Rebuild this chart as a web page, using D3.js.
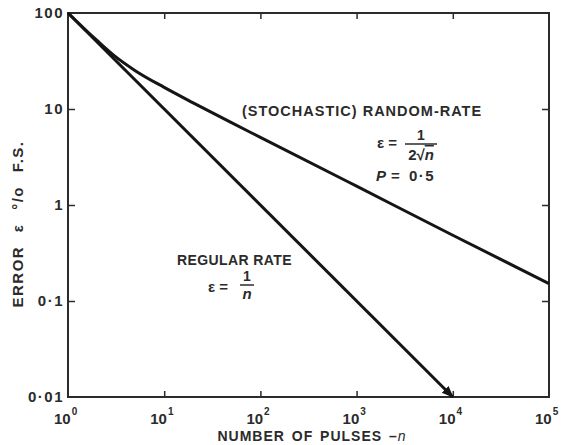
<!DOCTYPE html>
<html lang="en">
<head>
<meta charset="utf-8">
<title>Error vs number of pulses</title>
<script src="https://cdn.jsdelivr.net/npm/d3@7"></script>
<style>
  body { margin: 0; background: #fff; }
  svg { font-family: "Liberation Sans", Arial, sans-serif; font-weight: bold; }
  .lbl { font-size: 14px; fill: #2b2b2b; }
  .tk { font-size: 15px; letter-spacing: 1.5px; }
</style>
</head>
<body>
<svg width="561" height="445"></svg>
<script>
// pulses n and error (% F.S.)
var regularN = [1, 10000];
var regularErr = [100, 0.01];
var randomN = [1, 2, 3, 5, 10, 20, 50, 100, 1000, 10000, 100000];
var randomErr = [100, 51.8, 36.2, 25.1, 16.8, 11.6, 7.2, 5.07, 1.57, 0.484, 0.152];
var xTicks = [1, 10, 100, 1000, 10000, 100000];
var xExp = ["0", "1", "2", "3", "4", "5"];
var yTicks = [0.01, 0.1, 1, 10, 100];
var yLabels = ["0·01", "0·1", "1", "10", "100"];

var svg = d3.select("svg"),
    pl = 68, pr = 549, pt = 13, pb = 397;

var x = d3.scaleLog().domain([1, 1e5]).range([pl, pr]);
var y = d3.scaleLog().domain([0.01, 100]).range([pb, pt]);

var ink = "#2b2b2b";

// inward ticks on all four sides
var inner = xTicks.slice(1, -1), innerY = yTicks.slice(1, -1);
svg.append("g").attr("transform", "translate(0," + pb + ")")
    .call(d3.axisBottom(x).tickValues(inner).tickSize(-6).tickFormat(""));
svg.append("g").attr("transform", "translate(0," + pt + ")")
    .call(d3.axisTop(x).tickValues(inner).tickSize(-6).tickFormat(""));
svg.append("g").attr("transform", "translate(" + pl + ",0)")
    .call(d3.axisLeft(y).tickValues(innerY).tickSize(-7).tickFormat(""));
svg.append("g").attr("transform", "translate(" + pr + ",0)")
    .call(d3.axisRight(y).tickValues(innerY).tickSize(-7).tickFormat(""));
svg.selectAll(".domain").remove();
svg.selectAll(".tick line").attr("stroke", ink).attr("stroke-width", 1.5);

svg.append("rect")
    .attr("x", pl).attr("y", pt)
    .attr("width", pr - pl).attr("height", pb - pt)
    .attr("fill", "none").attr("stroke", ink).attr("stroke-width", 2);

// y tick labels
svg.selectAll(".ylab").data(yTicks).enter().append("text")
    .attr("class", "lbl tk")
    .attr("x", pl - 4)
    .attr("y", function(d) { return y(d) + 5; })
    .attr("text-anchor", "end")
    .text(function(d, i) { return yLabels[i]; });

// x tick labels with superscripts
var xl = svg.selectAll(".xlab").data(xTicks).enter().append("text")
    .attr("class", "lbl")
    .style("font-size", "15px")
    .attr("x", function(d) { return x(d) - 14; })
    .attr("y", 424);
xl.append("tspan").text("10");
xl.append("tspan").attr("dx", 1).attr("dy", -9).style("font-size", "10px")
    .text(function(d, i) { return xExp[i]; });

// axis titles
var xt = svg.append("text").attr("class", "lbl")
    .attr("x", 312).attr("y", 441).attr("text-anchor", "middle")
    .style("letter-spacing", "1px").style("word-spacing", "2px")
    .text("NUMBER OF PULSES –");
xt.append("tspan").style("font-style", "italic").style("font-weight", "normal").text("n");

svg.append("text").attr("class", "lbl")
    .attr("transform", "translate(23,224) rotate(-90)")
    .attr("text-anchor", "middle")
    .style("font-size", "15px").style("letter-spacing", "1.5px").style("word-spacing", "8px")
    .text("ERROR ε °/o F.S.");

// curves
var line = d3.line()
    .x(function(d) { return x(d[0]); })
    .y(function(d) { return y(d[1]); })
    .curve(d3.curveMonotoneX);

svg.append("defs").append("marker")
    .attr("id", "arrow").attr("viewBox", "0 0 10 10")
    .attr("refX", 9).attr("refY", 5)
    .attr("markerWidth", 4).attr("markerHeight", 4)
    .attr("orient", "auto")
  .append("path").attr("d", "M0,1L10,5L0,9Z").attr("fill", "#151515");

svg.append("path")
    .datum(d3.zip(regularN, regularErr))
    .attr("d", line)
    .attr("fill", "none").attr("stroke", "#151515").attr("stroke-width", 3)
    .attr("marker-end", "url(#arrow)");

svg.append("path")
    .datum(d3.zip(randomN, randomErr))
    .attr("d", line)
    .attr("fill", "none").attr("stroke", "#151515").attr("stroke-width", 3);

// annotations
svg.append("text").attr("class", "lbl").attr("x", 242).attr("y", 116)
    .style("letter-spacing", "1px").style("font-size", "14.5px")
    .text("(STOCHASTIC) RANDOM-RATE");
svg.append("text").attr("class", "lbl").attr("x", 377).attr("y", 148).style("font-size", "15px").text("ε =");
svg.append("text").attr("class", "lbl").attr("x", 421).attr("y", 140).attr("text-anchor", "middle").text("1");
svg.append("line").attr("x1", 405).attr("x2", 437).attr("y1", 144).attr("y2", 144)
    .attr("stroke", ink).attr("stroke-width", 1.5);
var den = svg.append("text").attr("class", "lbl").attr("x", 421).attr("y", 160).attr("text-anchor", "middle")
    .style("font-size", "15px");
den.append("tspan").text("2√");
den.append("tspan").style("font-style", "italic").style("text-decoration", "overline").text("n");
var p = svg.append("text").attr("class", "lbl").attr("x", 376).attr("y", 181).style("font-size", "15px");
p.append("tspan").style("font-style", "italic").text("P");
p.append("tspan").attr("dx", 5).text("=");
svg.append("text").attr("class", "lbl").attr("x", 409).attr("y", 181)
    .style("font-size", "15px").style("letter-spacing", "1.5px").text("0·5");

svg.append("text").attr("class", "lbl").attr("x", 177).attr("y", 265)
    .style("letter-spacing", "0.4px").text("REGULAR RATE");
svg.append("text").attr("class", "lbl").attr("x", 208).attr("y", 292).style("font-size", "15px").text("ε =");
svg.append("text").attr("class", "lbl").attr("x", 247).attr("y", 281).attr("text-anchor", "middle").text("1");
svg.append("line").attr("x1", 240).attr("x2", 254).attr("y1", 285).attr("y2", 285)
    .attr("stroke", ink).attr("stroke-width", 1.5);
svg.append("text").attr("class", "lbl").attr("x", 247).attr("y", 299).attr("text-anchor", "middle")
    .style("font-style", "italic").style("font-size", "15px").text("n");
</script>
</body>
</html>
